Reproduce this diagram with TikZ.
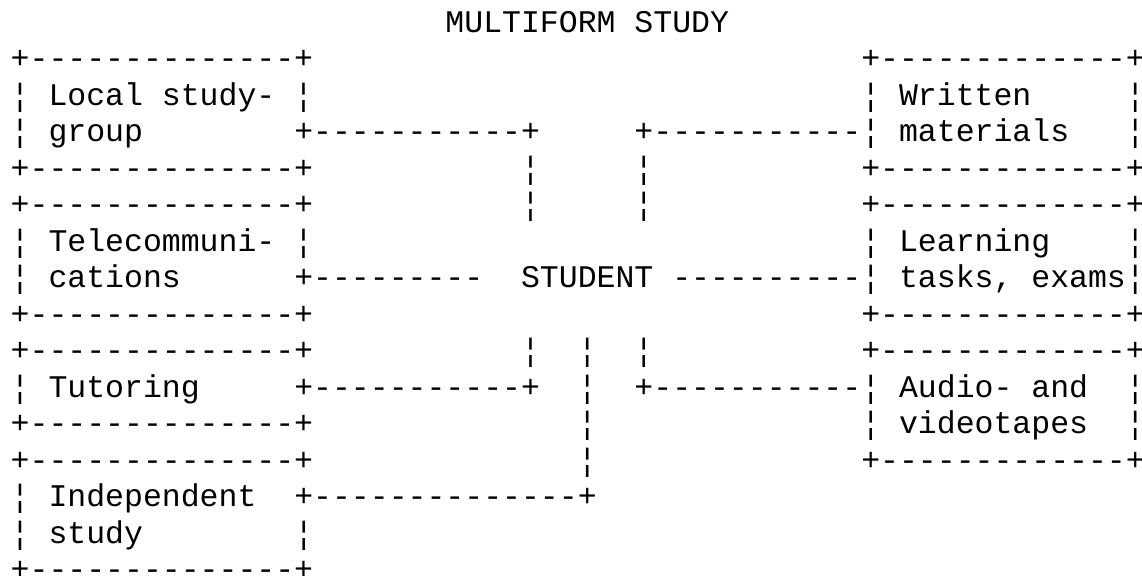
\documentclass[tikz,border=0pt]{standalone}
\usepackage{fontspec}
\setmonofont{Liberation Mono}
\begin{document}
\begin{tikzpicture}[x=18.9bp, y=-36.48bp,
  chars/.style={anchor=base west, inner sep=0pt, font=\ttfamily\fontsize{31.5bp}{36.48bp}\selectfont}]
\useasboundingbox (-20bp,32.3bp) rectangle (1122bp,-543.7bp);

\node[chars] (title) at (22.5,0) {MULTIFORM STUDY};

% box borders
\foreach \r in {1,4,5,8,9,11,12,15} {\node[chars] (lb\r) at (-0.5,\r) {+--------------+};}
\foreach \r in {1,4,5,8,9,12} {\node[chars] (rb\r) at (44.5,\r) {+-------------+};}

% box texts
\foreach \r/\t in {2/{¦ Local study- ¦}, 3/{¦ group}, 6/{¦ Telecommuni- ¦}, 7/{¦ cations},
  10/{¦ Tutoring}, 13/{¦ Independent}, 14/{¦ study}} {\node[chars] (lt\r) at (-0.5,\r) {\t};}
\foreach \r/\t in {2/{¦ Written}, 3/{¦ materials}, 6/{¦ Learning}, 7/{¦ tasks, exams¦},
  10/{¦ Audio- and}, 11/{¦ videotapes}} {\node[chars] (rt\r) at (44.5,\r) {\t};}
\foreach \r in {2,3,6,10,11} {\node[chars] (rs\r) at (58.5,\r) {¦};}
\node[chars] (ls14) at (14.5,14) {¦};

% links to the student
\node[chars] (student) at (26.5,7) {STUDENT};
\foreach \c/\r/\t in {15/3/{+-----------+}, 33/3/{+-----------}, 15/7/{+---------}, 35/7/{----------},
  15/10/{+-----------+}, 33/10/{+-----------}, 15/13/{+--------------+}}
  {\node[chars] (h\c-\r) at (\c-0.5,\r) {\t};}
\foreach \c/\r in {27/4, 33/4, 27/5, 33/5, 27/9, 30/9, 33/9, 30/10, 30/11, 30/12}
  {\node[chars] (v\c-\r) at (\c-0.5,\r) {¦};}

\end{tikzpicture}
\end{document}
